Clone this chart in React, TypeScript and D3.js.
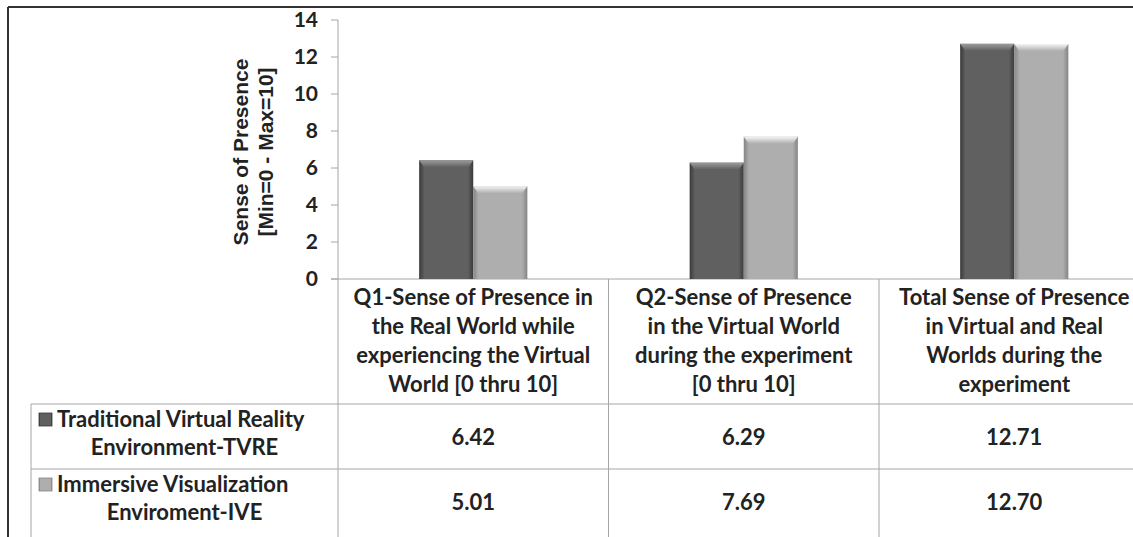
import React from "react";
import * as d3 from "d3";

const categories = ["Q1", "Q2", "Total"];
const categoryLines = [
  ["Q1-Sense of Presence in", "the Real World while", "experiencing the Virtual", "World [0 thru 10]"],
  ["Q2-Sense of Presence", "in the Virtual World", "during the experiment", "[0 thru 10]"],
  ["Total Sense of Presence", "in Virtual and Real", "Worlds during the", "experiment"],
];
const seriesNames = ["TVRE", "IVE"];
const seriesLabels = [
  ["Traditional Virtual Reality", "Environment-TVRE"],
  ["Immersive Visualization", "Enviroment-IVE"],
];
const tvre = [6.42, 6.29, 12.71];
const ive = [5.01, 7.69, 12.7];
const valueLabels = [
  ["6.42", "6.29", "12.71"],
  ["5.01", "7.69", "12.70"],
];
const yTicks = [0, 2, 4, 6, 8, 10, 12, 14];
const yTitle = ["Sense of Presence", "[Min=0 - Max=10]"];

const W = 1133;
const H = 537;
const FONT = "Lato, 'Open Sans', sans-serif";
const FS = 22;
const TEXT = "#222";
const GRID = "#a6a6a6";

const COLORS = {
  TVRE: { edge: "#3a3a3a", mid: "#606060", top: "#9c9c9c" },
  IVE: { edge: "#858585", mid: "#aeaeae", top: "#f4f4f4" },
} as Record<string, { edge: string; mid: string; top: string }>;

export default function App() {
  const axisX = 338;
  const plotTop = 20;
  const plotBottom = 279;
  const colW = 270.5;

  const x = d3
    .scaleBand<string>()
    .domain(categories)
    .range([axisX, axisX + colW * categories.length])
    .padding(0);
  const x1 = d3
    .scaleBand<string>()
    .domain(seriesNames)
    .range([0, x.bandwidth()])
    .paddingInner(0)
    .paddingOuter(1.5);
  const y = d3.scaleLinear().domain([0, 14]).range([plotBottom, plotTop]);

  const values: Record<string, number[]> = { TVRE: tvre, IVE: ive };

  const headerBottom = 404;
  const row1Bottom = 469;
  const legendLeft = 31;
  const rowH = row1Bottom - headerBottom;

  return (
    <svg
      width={W}
      height={H}
      style={{ position: "absolute", left: 0, top: 0, background: "#fff" }}
      fontFamily={FONT}
    >
      <defs>
        {seriesNames.map((s) => (
          <linearGradient key={s} id={`g-${s}`} x1="0" x2="1" y1="0" y2="0">
            <stop offset="0%" stopColor={COLORS[s].edge} />
            <stop offset="10%" stopColor={COLORS[s].mid} />
            <stop offset="90%" stopColor={COLORS[s].mid} />
            <stop offset="100%" stopColor={COLORS[s].edge} />
          </linearGradient>
        ))}
        {seriesNames.map((s) => (
          <linearGradient key={s} id={`t-${s}`} x1="0" x2="0" y1="0" y2="1">
            <stop offset="0%" stopColor={COLORS[s].top} />
            <stop offset="100%" stopColor={COLORS[s].mid} />
          </linearGradient>
        ))}
      </defs>

      {/* outer frame */}
      <line x1={8} x2={W} y1={7} y2={7} stroke="#333" strokeWidth={2} />
      <line x1={8} x2={8} y1={7} y2={H} stroke="#333" strokeWidth={2} />

      {/* y axis */}
      <line x1={axisX} x2={axisX} y1={plotTop} y2={H} stroke={GRID} />
      {yTicks.map((t) => (
        <g key={t}>
          <line x1={axisX - 7} x2={axisX} y1={y(t)} y2={y(t)} stroke={GRID} />
          <text
            x={axisX - 20}
            y={y(t)}
            dy="0.35em"
            textAnchor="end"
            fontSize={21}
            fontWeight="bold"
            fill={TEXT}
          >
            {t}
          </text>
        </g>
      ))}
      <line x1={axisX - 7} x2={W} y1={plotBottom} y2={plotBottom} stroke={GRID} />

      {/* y title */}
      <g transform="translate(253,152) rotate(-90)">
        {yTitle.map((l, i) => (
          <text
            key={l}
            x={0}
            y={(i - 0.5) * 25}
            dy="0.35em"
            textAnchor="middle"
            fontFamily="'Liberation Sans', Arial, sans-serif"
            fontSize={21}
            fontWeight="bold"
            fill={TEXT}
          >
            {l}
          </text>
        ))}
      </g>

      {/* bars */}
      {seriesNames.map((s) =>
        categories.map((c, i) => {
          const bx = (x(c) ?? 0) + (x1(s) ?? 0);
          const bw = x1.bandwidth();
          const by = y(values[s][i]);
          const bh = plotBottom - by;
          return (
            <g key={s + c}>
              <rect x={bx} y={by} width={bw} height={bh} fill={`url(#g-${s})`} />
              <path
                d={`M${bx},${by}L${bx + bw},${by}L${bx + bw - 5},${by + 7}L${bx + 5},${by + 7}Z`}
                fill={`url(#t-${s})`}
              />
            </g>
          );
        })
      )}

      {/* table lines */}
      {categories.slice(1).map((c) => (
        <line key={c} x1={x(c)} x2={x(c)} y1={plotBottom} y2={H} stroke={GRID} />
      ))}
      <line x1={legendLeft} x2={W} y1={headerBottom} y2={headerBottom} stroke={GRID} />
      <line x1={legendLeft} x2={W} y1={row1Bottom} y2={row1Bottom} stroke={GRID} />
      <line x1={legendLeft} x2={legendLeft} y1={headerBottom} y2={H} stroke={GRID} />

      {/* category headers */}
      {categories.map((c, i) => (
        <text key={c} textAnchor="middle" fontSize={FS} fontWeight="bold" fill={TEXT}>
          {categoryLines[i].map((l, j) => (
            <tspan key={j} x={(x(c) ?? 0) + x.bandwidth() / 2} y={297 + j * 29} dy="0.35em">
              {l}
            </tspan>
          ))}
        </text>
      ))}

      {/* value rows */}
      {seriesNames.map((s, si) =>
        categories.map((c, i) => (
          <text
            key={s + c}
            x={(x(c) ?? 0) + x.bandwidth() / 2}
            y={headerBottom + si * rowH + 33}
            dy="0.35em"
            textAnchor="middle"
            fontSize={FS}
            fontWeight="bold"
            fill={TEXT}
          >
            {valueLabels[si][i]}
          </text>
        ))
      )}

      {/* legend rows */}
      {seriesNames.map((s, si) => {
        const cx = (legendLeft + axisX) / 2;
        const top = headerBottom + si * rowH;
        return (
          <g key={s}>
            <rect
              x={39}
              y={top + 9}
              width={13}
              height={13}
              fill={`url(#g-${s})`}
              stroke={COLORS[s].edge}
              strokeWidth={0.8}
            />
            <text
              x={57}
              y={top + 15}
              dy="0.35em"
              textAnchor="start"
              fontSize={FS}
              fontWeight="bold"
              fill={TEXT}
            >
              {seriesLabels[si][0]}
            </text>
            <text
              x={cx}
              y={top + 43}
              dy="0.35em"
              textAnchor="middle"
              fontSize={FS}
              fontWeight="bold"
              fill={TEXT}
            >
              {seriesLabels[si][1]}
            </text>
          </g>
        );
      })}
    </svg>
  );
}
